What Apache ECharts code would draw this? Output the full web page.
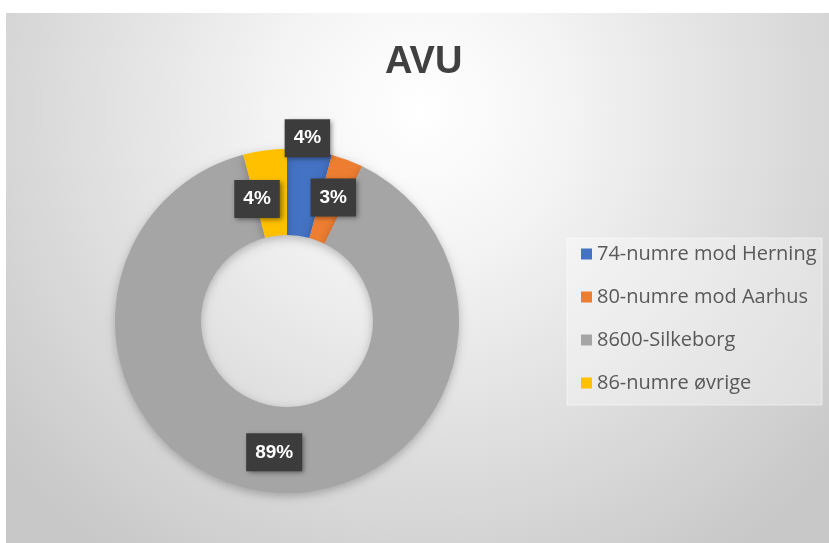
<!DOCTYPE html>
<html lang="en">
<head>
    <meta charset="utf-8">
    <style>
        html,
        body {
            margin: 0;
            width: 100%;
            height: 100%;
            background: #fff;
            overflow: hidden;
        }

        #main {
            width: 829px;
            height: 543px;
        }
    </style>
</head>
<body>
<div id="main"></div>
<script src="https://cdn.jsdelivr.net/npm/echarts@6/dist/echarts.min.js"></script>
<script>
    var categories = ['74-numre mod Herning', '80-numre mod Aarhus', '8600-Silkeborg', '86-numre øvrige'];
    var shares = [4.2, 3.0, 88.7, 4.1];
    var colors = ['#4472C4', '#ED7D31', '#A5A5A5', '#FFC000'];
    // Excel moved some labels away from the ring middle
    var labelShift = [[3, -52], [0, 0], [0, 0], [-13, 9]];

    var chart = echarts.init(document.getElementById('main'));

    var pieData = [];
    for (var i = 0; i < categories.length; i++) {
        pieData.push({name: categories[i], value: shares[i]});
    }

    chart.setOption({
        animation: false,
        color: colors,
        title: {
            text: 'AVU',
            left: 380,
            top: 39,
            textStyle: {
                fontFamily: 'Liberation Sans',
                fontSize: 38,
                fontWeight: 'bold',
                color: '#404040'
            }
        },
        graphic: [
            {
                type: 'rect',
                z: -10,
                silent: true,
                shape: {x: 6, y: 13, width: 823, height: 530},
                style: {
                    fill: new echarts.graphic.RadialGradient(420, 110, 540, [
                        {offset: 0, color: '#ffffff'},
                        {offset: 0.25, color: '#f5f5f5'},
                        {offset: 1, color: '#c8c8c8'}
                    ], true)
                }
            },
            {
                type: 'rect',
                z: -5,
                silent: true,
                shape: {x: 567, y: 238, width: 255, height: 167},
                style: {
                    fill: 'rgba(255,255,255,0.35)',
                    stroke: 'rgba(255,255,255,0.5)',
                    lineWidth: 1
                }
            }
        ],
        legend: {
            orient: 'vertical',
            left: 576,
            top: 239,
            itemWidth: 11,
            itemHeight: 11,
            itemGap: 23,
            icon: 'rect',
            textStyle: {
                fontFamily: 'Open Sans',
                fontSize: 20,
                color: '#595959'
            },
            data: categories
        },
        series: [
            {
                type: 'pie',
                center: [287, 321],
                radius: [86, 172],
                startAngle: 90,
                percentPrecision: 0,
                avoidLabelOverlap: false,
                itemStyle: {
                    shadowBlur: 10,
                    shadowOffsetY: 3,
                    shadowColor: 'rgba(0,0,0,0.25)'
                },
                label: {
                    show: true,
                    position: 'inside',
                    formatter: '{d}%',
                    fontFamily: 'Liberation Sans',
                    fontSize: 19,
                    fontWeight: 'bold',
                    color: '#ffffff',
                    backgroundColor: '#3c3c3c',
                    padding: [10, 9, 9, 9],
                    shadowBlur: 5,
                    shadowOffsetX: 2,
                    shadowOffsetY: 2,
                    shadowColor: 'rgba(0,0,0,0.45)'
                },
                labelLine: {show: false},
                labelLayout: function (params) {
                    var s = labelShift[params.dataIndex];
                    return {dx: s[0], dy: s[1]};
                },
                emphasis: {disabled: true},
                data: pieData
            }
        ]
    });
</script>
</body>
</html>
